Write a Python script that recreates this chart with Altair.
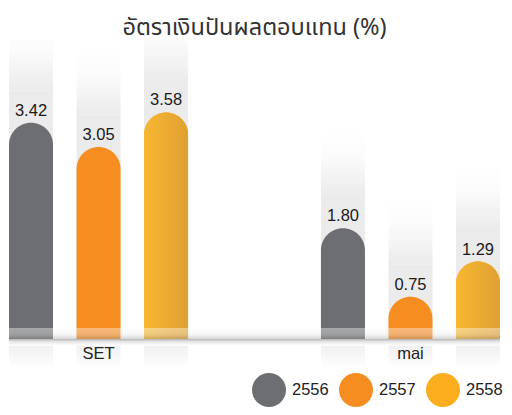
import altair as alt
import pandas as pd

groups = ["SET", "SET", "SET", "mai", "mai", "mai"]
years = ["2556", "2557", "2558", "2556", "2557", "2558"]
values = [3.42, 3.05, 3.58, 1.80, 0.75, 1.29]

year_domain = ["2556", "2557", "2558"]
year_colors = ["#6d6e71", "#f68d21", "#fbad1d"]
group_order = ["SET", "mai"]

df = pd.DataFrame({"group": groups, "year": years, "value": values})

FONT = "Helvetica Neue, Helvetica, Liberation Sans, Arial, sans-serif"
TITLE_FONT = "Noto Sans Thai, Noto Sans, Helvetica, sans-serif"

W = 491
H = 299
YMIN, YMAX = 0.1, 4.693

x_enc = alt.X("group:N", sort=group_order,
              scale=alt.Scale(paddingInner=0.426, paddingOuter=0),
              axis=alt.Axis(title=None, domain=False, ticks=False, tickSize=0,
                            labelAngle=0, labelPadding=6, labelFontSize=16.5,
                            labelFont=FONT, labelColor="#222222", zindex=1,
                            labelBaseline="top"))
xo_enc = alt.XOffset("year:N", sort=year_domain,
                     scale=alt.Scale(paddingInner=0.348, paddingOuter=0))
y_scale = alt.Scale(domain=[YMIN, YMAX], zero=False, nice=False)

base = alt.Chart(df).transform_calculate(
    mid="datum.value + 0.5",
    top="datum.value + 1.5",
)

bg_solid = base.mark_bar(color="#ebebeb", clip=True).encode(
    x=x_enc, xOffset=xo_enc,
    y=alt.Y("mid:Q", scale=y_scale, axis=None),
    y2=alt.Y2(datum=0.0),
)

fade = alt.Gradient(gradient="linear",
                    stops=[alt.GradientStop(color="#ffffff", offset=0),
                           alt.GradientStop(color="#fbfbfb", offset=0.4),
                           alt.GradientStop(color="#ebebeb", offset=1)],
                    x1=0, x2=0, y1=0, y2=1)
bg_fade = base.mark_bar(color=fade, clip=True).encode(
    x=x_enc, xOffset=xo_enc,
    y=alt.Y("top:Q", scale=y_scale, axis=None),
    y2="mid:Q",
)

bars = base.mark_bar(cornerRadiusTopLeft=22, cornerRadiusTopRight=22, clip=True).encode(
    x=x_enc, xOffset=xo_enc,
    y=alt.Y("value:Q", scale=y_scale, axis=None),
    y2=alt.Y2(datum=0.0),
    color=alt.Color("year:N", sort=year_domain,
                    scale=alt.Scale(domain=year_domain, range=year_colors),
                    legend=alt.Legend(title=None, orient="none", direction="horizontal",
                                      legendX=243, legendY=333, padding=0,
                                      symbolType="circle", symbolSize=1156,
                                      symbolStrokeWidth=0, symbolOpacity=1,
                                      labelFontSize=16.5, labelFont=FONT,
                                      labelColor="#222222", labelOffset=6,
                                      columnPadding=10)),
)

yellow_grad = alt.Gradient(gradient="linear",
                           stops=[alt.GradientStop(color="#f7b731", offset=0),
                                  alt.GradientStop(color="#e0a032", offset=1)],
                           x1=0, x2=1, y1=0, y2=0)
yellow = base.transform_filter(alt.datum.year == "2558").mark_bar(
    color=yellow_grad, cornerRadiusTopLeft=22, cornerRadiusTopRight=22, clip=True
).encode(
    x=x_enc, xOffset=xo_enc,
    y=alt.Y("value:Q", scale=y_scale, axis=None),
    y2=alt.Y2(datum=0.0),
)

labels = base.mark_text(baseline="bottom", dy=-4, fontSize=16.5, font=FONT,
                        color="#1a1a1a").encode(
    x=x_enc, xOffset=xo_enc,
    y=alt.Y("value:Q", scale=y_scale, axis=None),
    text=alt.Text("value:Q", format=".2f"),
)

reflect_grad = alt.Gradient(gradient="linear",
                            stops=[alt.GradientStop(color="#f0f0f0", offset=0),
                                   alt.GradientStop(color="#ffffff", offset=1)],
                            x1=0, x2=0, y1=0, y2=1)
reflect = base.mark_bar(color=reflect_grad, clip=False).encode(
    x=x_enc, xOffset=xo_enc,
    y=alt.Y(datum=0.0, scale=y_scale, axis=None),
    y2=alt.Y2(datum=-0.35),
)

band_grad = alt.Gradient(gradient="linear",
                         stops=[alt.GradientStop(color="#ffffff", offset=0),
                                alt.GradientStop(color="#e6e6e6", offset=0.6),
                                alt.GradientStop(color="#9a9a9a", offset=1)],
                         x1=0, x2=0, y1=0, y2=1)
band = alt.Chart(pd.DataFrame({"k": [0]})).mark_rect(
    color=band_grad, opacity=0.4, clip=False
).encode(
    x=alt.value(0), x2=alt.value(W),
    y=alt.Y(datum=0.27, scale=y_scale, axis=None),
    y2=alt.Y2(datum=0.1),
)

shadow_grad = alt.Gradient(gradient="linear",
                           stops=[alt.GradientStop(color="#b5b5b5", offset=0),
                                  alt.GradientStop(color="#e5e5e5", offset=0.4),
                                  alt.GradientStop(color="#ffffff", offset=1)],
                           x1=0, x2=0, y1=0, y2=1)
shadow = alt.Chart(pd.DataFrame({"k": [0]})).mark_rect(
    color=shadow_grad, clip=False
).encode(
    x=alt.value(0), x2=alt.value(W),
    y=alt.Y(datum=0.1, scale=y_scale, axis=None),
    y2=alt.Y2(datum=0.0),
)

chart = alt.layer(bg_solid, bg_fade, reflect, bars, yellow, labels, band, shadow).properties(
    width=W, height=H,
    title=alt.TitleParams("อัตราเงินปันผลตอบแทน (%)", fontSize=23.5, font=TITLE_FONT,
                          fontWeight="normal", color="#333333", anchor="middle",
                          offset=1),
    autosize=alt.AutoSizeParams(type="none"),
    padding={"left": 1, "top": 32, "right": 4, "bottom": 68},
).configure_view(stroke=None).configure_axis(grid=False)

chart.save("out.html", embed_options={"renderer": "svg", "actions": False})
